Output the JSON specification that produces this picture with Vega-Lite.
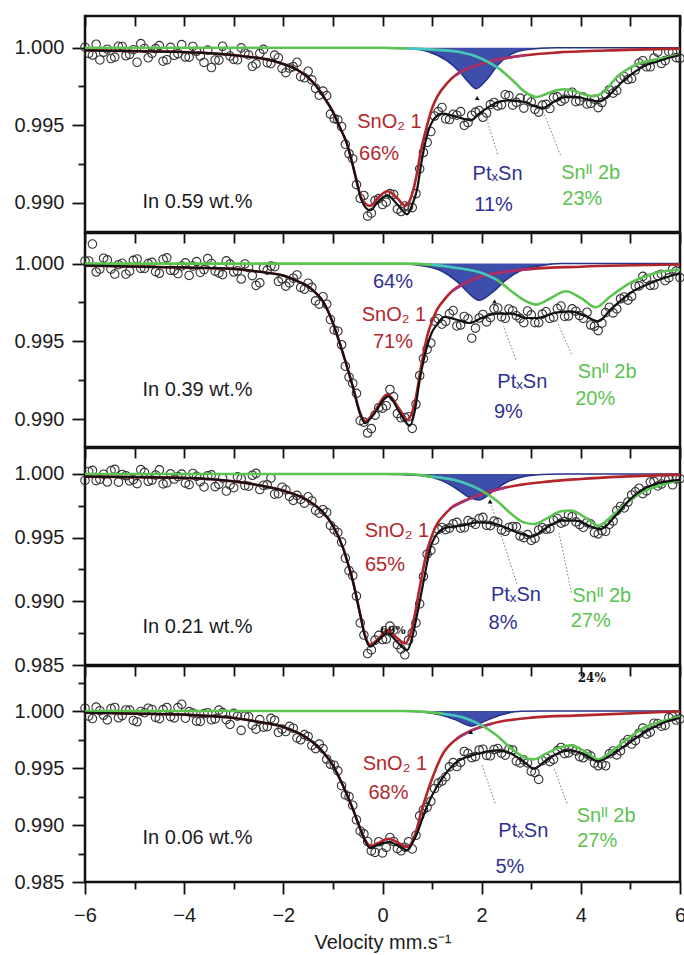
{
"$schema": "https://vega.github.io/schema/vega-lite/v6.json",
"padding": {"left": 12, "top": 13, "right": 4, "bottom": 0},
"bounds": "flush",
"spacing": 1,
"config": {
  "font": "Liberation Sans",
  "view": {"stroke": "#111111", "strokeWidth": 2.5},
  "axis": {"grid": false, "domain": false, "labelFont": "Liberation Sans", "titleFont": "Liberation Sans", "labelFontSize": 20, "labelColor": "#1c1c1c", "tickColor": "#111111", "tickWidth": 1.8, "titleColor": "#1c1c1c", "labelFlush": false, "labelOverlap": false}
},
"datasets": {
"pts": [
{"p":1,"v":-6,"y":1.00003},{"p":1,"v":-5.85,"y":0.99952},{"p":1,"v":-5.7,"y":0.99921},{"p":1,"v":-5.55,"y":0.9999},{"p":1,"v":-5.4,"y":0.99939},{"p":1,"v":-5.25,"y":1.00008},{"p":1,"v":-5.1,"y":0.99957},{"p":1,"v":-4.95,"y":0.99906},{"p":1,"v":-4.8,"y":0.99995},{"p":1,"v":-4.65,"y":0.99964},
{"p":1,"v":-4.5,"y":1.00013},{"p":1,"v":-4.35,"y":0.99922},{"p":1,"v":-4.2,"y":0.99951},{"p":1,"v":-4.05,"y":1.0002},{"p":1,"v":-3.9,"y":0.99939},{"p":1,"v":-3.75,"y":0.99977},{"p":1,"v":-3.6,"y":0.99905},{"p":1,"v":-3.45,"y":0.99872},{"p":1,"v":-3.3,"y":0.9992},{"p":1,"v":-3.15,"y":0.99977},
{"p":1,"v":-3,"y":0.99924},{"p":1,"v":-2.85,"y":0.99999},{"p":1,"v":-2.7,"y":0.99953},{"p":1,"v":-2.55,"y":0.99896},{"p":1,"v":-2.4,"y":0.99989},{"p":1,"v":-2.25,"y":0.99898},{"p":1,"v":-2.1,"y":0.99935},{"p":1,"v":-1.95,"y":0.99839},{"p":1,"v":-1.8,"y":0.99878},{"p":1,"v":-1.65,"y":0.99813},
{"p":1,"v":-1.5,"y":0.99848},{"p":1,"v":-1.35,"y":0.99738},{"p":1,"v":-1.2,"y":0.9972},{"p":1,"v":-1.05,"y":0.99572},{"p":1,"v":-0.9,"y":0.99535},{"p":1,"v":-0.75,"y":0.99378},{"p":1,"v":-0.6,"y":0.99285},{"p":1,"v":-0.45,"y":0.9903},{"p":1,"v":-0.3,"y":0.98915},{"p":1,"v":-0.15,"y":0.99015},
{"p":1,"v":0,"y":0.9899},{"p":1,"v":0.15,"y":0.9906},{"p":1,"v":0.3,"y":0.9896},{"p":1,"v":0.45,"y":0.9898},{"p":1,"v":0.6,"y":0.9897},{"p":1,"v":0.75,"y":0.9922},{"p":1,"v":0.9,"y":0.9939},{"p":1,"v":1.05,"y":0.9956},{"p":1,"v":1.2,"y":0.99615},{"p":1,"v":1.35,"y":0.99537},
{"p":1,"v":1.5,"y":0.99565},{"p":1,"v":1.65,"y":0.995},{"p":1,"v":1.8,"y":0.99565},{"p":1,"v":1.95,"y":0.99595},{"p":1,"v":2.1,"y":0.99579},{"p":1,"v":2.25,"y":0.99647},{"p":1,"v":2.4,"y":0.99632},{"p":1,"v":2.55,"y":0.99691},{"p":1,"v":2.7,"y":0.99648},{"p":1,"v":2.85,"y":0.99611},
{"p":1,"v":3,"y":0.9965},{"p":1,"v":3.15,"y":0.99585},{"p":1,"v":3.3,"y":0.99635},{"p":1,"v":3.45,"y":0.9968},{"p":1,"v":3.6,"y":0.99655},{"p":1,"v":3.75,"y":0.99703},{"p":1,"v":3.9,"y":0.99652},{"p":1,"v":4.05,"y":0.99682},{"p":1,"v":4.2,"y":0.99642},{"p":1,"v":4.35,"y":0.99614},
{"p":1,"v":4.5,"y":0.997},{"p":1,"v":4.65,"y":0.99707},{"p":1,"v":4.8,"y":0.998},{"p":1,"v":4.95,"y":0.99795},{"p":1,"v":5.1,"y":0.99856},{"p":1,"v":5.25,"y":0.99916},{"p":1,"v":5.4,"y":0.99877},{"p":1,"v":5.55,"y":0.99971},{"p":1,"v":5.7,"y":0.99917},{"p":1,"v":5.85,"y":0.9997},
{"p":1,"v":6,"y":0.99931},
{"p":1,"v":-5.925,"y":0.99963},{"p":1,"v":-5.775,"y":1.00022},{"p":1,"v":-5.625,"y":0.99971},{"p":1,"v":-5.475,"y":0.9993},{"p":1,"v":-5.325,"y":1.00009},{"p":1,"v":-5.175,"y":0.99948},{"p":1,"v":-5.025,"y":0.99987},{"p":1,"v":-4.875,"y":1.00026},{"p":1,"v":-4.725,"y":0.99935},{"p":1,"v":-4.575,"y":0.99994},
{"p":1,"v":-4.425,"y":0.99913},{"p":1,"v":-4.275,"y":1.00002},{"p":1,"v":-4.125,"y":0.99961},{"p":1,"v":-3.975,"y":0.9994},{"p":1,"v":-3.825,"y":1.00008},{"p":1,"v":-3.675,"y":0.99946},{"p":1,"v":-3.525,"y":0.99984},{"p":1,"v":-3.375,"y":0.99921},{"p":1,"v":-3.225,"y":1.00009},{"p":1,"v":-3.075,"y":0.99946},
{"p":1,"v":-2.925,"y":0.99922},{"p":1,"v":-2.775,"y":0.99966},{"p":1,"v":-2.625,"y":0.9988},{"p":1,"v":-2.475,"y":0.99963},{"p":1,"v":-2.325,"y":0.99904},{"p":1,"v":-2.175,"y":0.99952},{"p":1,"v":-2.025,"y":0.99867},{"p":1,"v":-1.875,"y":0.99869},{"p":1,"v":-1.725,"y":0.99906},{"p":1,"v":-1.575,"y":0.99806},
{"p":1,"v":-1.425,"y":0.99793},{"p":1,"v":-1.275,"y":0.99694},{"p":1,"v":-1.125,"y":0.99691},{"p":1,"v":-0.975,"y":0.99544},{"p":1,"v":-0.825,"y":0.99492},{"p":1,"v":-0.675,"y":0.99317},{"p":1,"v":-0.525,"y":0.99118},{"p":1,"v":-0.375,"y":0.99048},{"p":1,"v":-0.225,"y":0.98935},{"p":1,"v":-0.075,"y":0.99028},
{"p":1,"v":0.075,"y":0.99005},{"p":1,"v":0.225,"y":0.99055},{"p":1,"v":0.375,"y":0.98945},{"p":1,"v":0.525,"y":0.98975},{"p":1,"v":0.675,"y":0.9906},{"p":1,"v":0.825,"y":0.99325},{"p":1,"v":0.975,"y":0.9946},{"p":1,"v":1.125,"y":0.99588},{"p":1,"v":1.275,"y":0.99541},{"p":1,"v":1.425,"y":0.99571},
{"p":1,"v":1.575,"y":0.99588},{"p":1,"v":1.725,"y":0.99518},{"p":1,"v":1.875,"y":0.99585},{"p":1,"v":2.025,"y":0.99552},{"p":1,"v":2.175,"y":0.99633},{"p":1,"v":2.325,"y":0.99625},{"p":1,"v":2.475,"y":0.99697},{"p":1,"v":2.625,"y":0.9963},{"p":1,"v":2.775,"y":0.99675},{"p":1,"v":2.925,"y":0.99671},
{"p":1,"v":3.075,"y":0.99603},{"p":1,"v":3.225,"y":0.9963},{"p":1,"v":3.375,"y":0.99608},{"p":1,"v":3.525,"y":0.99683},{"p":1,"v":3.675,"y":0.99669},{"p":1,"v":3.825,"y":0.99713},{"p":1,"v":3.975,"y":0.99657},{"p":1,"v":4.125,"y":0.99637},{"p":1,"v":4.275,"y":0.99668},{"p":1,"v":4.425,"y":0.99647},
{"p":1,"v":4.575,"y":0.99729},{"p":1,"v":4.725,"y":0.99724},{"p":1,"v":4.875,"y":0.99813},{"p":1,"v":5.025,"y":0.99801},{"p":1,"v":5.175,"y":0.99901},{"p":1,"v":5.325,"y":0.99877},{"p":1,"v":5.475,"y":0.99934},{"p":1,"v":5.625,"y":0.99899},{"p":1,"v":5.775,"y":0.99974},{"p":1,"v":5.925,"y":0.99936},
{"p":2,"v":-6,"y":1.00017},{"p":2,"v":-5.85,"y":1.00126},{"p":2,"v":-5.7,"y":0.99965},{"p":2,"v":-5.55,"y":1.00024},{"p":2,"v":-5.4,"y":0.99933},{"p":2,"v":-5.25,"y":1.00002},{"p":2,"v":-5.1,"y":0.99951},{"p":2,"v":-4.95,"y":1.0003},{"p":2,"v":-4.8,"y":0.99969},{"p":2,"v":-4.65,"y":1.00008},
{"p":2,"v":-4.5,"y":0.99938},{"p":2,"v":-4.35,"y":1.00037},{"p":2,"v":-4.2,"y":0.99956},{"p":2,"v":-4.05,"y":0.99985},{"p":2,"v":-3.9,"y":0.99924},{"p":2,"v":-3.75,"y":1.00013},{"p":2,"v":-3.6,"y":0.99962},{"p":2,"v":-3.45,"y":1.00001},{"p":2,"v":-3.3,"y":0.9994},{"p":2,"v":-3.15,"y":1.00018},
{"p":2,"v":-3,"y":0.99946},{"p":2,"v":-2.85,"y":0.99901},{"p":2,"v":-2.7,"y":0.99975},{"p":2,"v":-2.55,"y":0.9986},{"p":2,"v":-2.4,"y":0.99972},{"p":2,"v":-2.25,"y":0.99984},{"p":2,"v":-2.1,"y":0.99886},{"p":2,"v":-1.95,"y":0.99855},{"p":2,"v":-1.8,"y":0.99906},{"p":2,"v":-1.65,"y":0.99847},
{"p":2,"v":-1.5,"y":0.99874},{"p":2,"v":-1.35,"y":0.9976},{"p":2,"v":-1.2,"y":0.99787},{"p":2,"v":-1.05,"y":0.9964},{"p":2,"v":-0.9,"y":0.99565},{"p":2,"v":-0.75,"y":0.9934},{"p":2,"v":-0.6,"y":0.9923},{"p":2,"v":-0.45,"y":0.98989},{"p":2,"v":-0.3,"y":0.9891},{"p":2,"v":-0.15,"y":0.99025},
{"p":2,"v":0,"y":0.9907},{"p":2,"v":0.15,"y":0.9919},{"p":2,"v":0.3,"y":0.99035},{"p":2,"v":0.45,"y":0.9901},{"p":2,"v":0.6,"y":0.9894},{"p":2,"v":0.75,"y":0.9928},{"p":2,"v":0.9,"y":0.99448},{"p":2,"v":1.05,"y":0.9963},{"p":2,"v":1.2,"y":0.9961},{"p":2,"v":1.35,"y":0.99677},
{"p":2,"v":1.5,"y":0.99599},{"p":2,"v":1.65,"y":0.9966},{"p":2,"v":1.8,"y":0.9952},{"p":2,"v":1.95,"y":0.9965},{"p":2,"v":2.1,"y":0.99625},{"p":2,"v":2.25,"y":0.9971},{"p":2,"v":2.4,"y":0.99658},{"p":2,"v":2.55,"y":0.99708},{"p":2,"v":2.7,"y":0.99665},{"p":2,"v":2.85,"y":0.9962},
{"p":2,"v":3,"y":0.9967},{"p":2,"v":3.15,"y":0.9962},{"p":2,"v":3.3,"y":0.9969},{"p":2,"v":3.45,"y":0.99655},{"p":2,"v":3.6,"y":0.99727},{"p":2,"v":3.75,"y":0.99663},{"p":2,"v":3.9,"y":0.99694},{"p":2,"v":4.05,"y":0.99648},{"p":2,"v":4.2,"y":0.99605},{"p":2,"v":4.35,"y":0.99569},
{"p":2,"v":4.5,"y":0.99685},{"p":2,"v":4.65,"y":0.99683},{"p":2,"v":4.8,"y":0.99774},{"p":2,"v":4.95,"y":0.99765},{"p":2,"v":5.1,"y":0.99855},{"p":2,"v":5.25,"y":0.99918},{"p":2,"v":5.4,"y":0.9986},{"p":2,"v":5.55,"y":0.99923},{"p":2,"v":5.7,"y":0.9989},{"p":2,"v":5.85,"y":0.99965},
{"p":2,"v":6,"y":0.9991},
{"p":2,"v":-5.925,"y":1.00017},{"p":2,"v":-5.775,"y":0.99946},{"p":2,"v":-5.625,"y":1.00035},{"p":2,"v":-5.475,"y":0.99964},{"p":2,"v":-5.325,"y":0.99993},{"p":2,"v":-5.175,"y":0.99932},{"p":2,"v":-5.025,"y":1.00021},{"p":2,"v":-4.875,"y":0.9997},{"p":2,"v":-4.725,"y":1.0},{"p":2,"v":-4.575,"y":0.99948},
{"p":2,"v":-4.425,"y":1.00028},{"p":2,"v":-4.275,"y":0.99957},{"p":2,"v":-4.125,"y":0.99936},{"p":2,"v":-3.975,"y":1.00005},{"p":2,"v":-3.825,"y":0.99984},{"p":2,"v":-3.675,"y":0.99943},{"p":2,"v":-3.525,"y":1.00032},{"p":2,"v":-3.375,"y":0.99951},{"p":2,"v":-3.225,"y":0.99929},{"p":2,"v":-3.075,"y":0.99997},
{"p":2,"v":-2.925,"y":0.99954},{"p":2,"v":-2.775,"y":0.99998},{"p":2,"v":-2.625,"y":0.99923},{"p":2,"v":-2.475,"y":0.99876},{"p":2,"v":-2.325,"y":0.99958},{"p":2,"v":-2.175,"y":0.9998},{"p":2,"v":-2.025,"y":0.99901},{"p":2,"v":-1.875,"y":0.99876},{"p":2,"v":-1.725,"y":0.99927},{"p":2,"v":-1.575,"y":0.99836},
{"p":2,"v":-1.425,"y":0.99847},{"p":2,"v":-1.275,"y":0.99739},{"p":2,"v":-1.125,"y":0.99739},{"p":2,"v":-0.975,"y":0.99573},{"p":2,"v":-0.825,"y":0.99478},{"p":2,"v":-0.675,"y":0.9927},{"p":2,"v":-0.525,"y":0.99165},{"p":2,"v":-0.375,"y":0.9898},{"p":2,"v":-0.225,"y":0.98938},{"p":2,"v":-0.075,"y":0.99073},
{"p":2,"v":0.075,"y":0.99085},{"p":2,"v":0.225,"y":0.99143},{"p":2,"v":0.375,"y":0.99008},{"p":2,"v":0.525,"y":0.99015},{"p":2,"v":0.675,"y":0.99095},{"p":2,"v":0.825,"y":0.99389},{"p":2,"v":0.975,"y":0.99489},{"p":2,"v":1.125,"y":0.99645},{"p":2,"v":1.275,"y":0.99629},{"p":2,"v":1.425,"y":0.99698},
{"p":2,"v":1.575,"y":0.99605},{"p":2,"v":1.725,"y":0.99645},{"p":2,"v":1.875,"y":0.99585},{"p":2,"v":2.025,"y":0.99673},{"p":2,"v":2.175,"y":0.99653},{"p":2,"v":2.325,"y":0.99714},{"p":2,"v":2.475,"y":0.99648},{"p":2,"v":2.625,"y":0.99697},{"p":2,"v":2.775,"y":0.99648},{"p":2,"v":2.925,"y":0.99695},
{"p":2,"v":3.075,"y":0.9962},{"p":2,"v":3.225,"y":0.99675},{"p":2,"v":3.375,"y":0.99648},{"p":2,"v":3.525,"y":0.99711},{"p":2,"v":3.675,"y":0.9966},{"p":2,"v":3.825,"y":0.99709},{"p":2,"v":3.975,"y":0.99666},{"p":2,"v":4.125,"y":0.99687},{"p":2,"v":4.275,"y":0.99597},{"p":2,"v":4.425,"y":0.99617},
{"p":2,"v":4.575,"y":0.99719},{"p":2,"v":4.725,"y":0.99709},{"p":2,"v":4.875,"y":0.99785},{"p":2,"v":5.025,"y":0.9979},{"p":2,"v":5.175,"y":0.99857},{"p":2,"v":5.325,"y":0.99904},{"p":2,"v":5.475,"y":0.99862},{"p":2,"v":5.625,"y":0.99932},{"p":2,"v":5.775,"y":0.99908},{"p":2,"v":5.925,"y":0.99953},
{"p":3,"v":-6,"y":0.99949},{"p":3,"v":-5.85,"y":1.00028},{"p":3,"v":-5.7,"y":0.99958},{"p":3,"v":-5.55,"y":0.99937},{"p":3,"v":-5.4,"y":1.00036},{"p":3,"v":-5.25,"y":0.99996},{"p":3,"v":-5.1,"y":0.99945},{"p":3,"v":-4.95,"y":0.99924},{"p":3,"v":-4.8,"y":1.00013},{"p":3,"v":-4.65,"y":0.99952},
{"p":3,"v":-4.5,"y":1.00032},{"p":3,"v":-4.35,"y":0.99931},{"p":3,"v":-4.2,"y":0.9996},{"p":3,"v":-4.05,"y":0.99999},{"p":3,"v":-3.9,"y":0.99916},{"p":3,"v":-3.75,"y":0.99982},{"p":3,"v":-3.6,"y":0.99898},{"p":3,"v":-3.45,"y":0.99993},{"p":3,"v":-3.3,"y":0.99919},{"p":3,"v":-3.15,"y":0.99866},
{"p":3,"v":-3,"y":0.99892},{"p":3,"v":-2.85,"y":0.99963},{"p":3,"v":-2.7,"y":0.99904},{"p":3,"v":-2.55,"y":1.00005},{"p":3,"v":-2.4,"y":0.99911},{"p":3,"v":-2.25,"y":0.99968},{"p":3,"v":-2.1,"y":0.99845},{"p":3,"v":-1.95,"y":0.99876},{"p":3,"v":-1.8,"y":0.99793},{"p":3,"v":-1.65,"y":0.998},
{"p":3,"v":-1.5,"y":0.99821},{"p":3,"v":-1.35,"y":0.99715},{"p":3,"v":-1.2,"y":0.99719},{"p":3,"v":-1.05,"y":0.99596},{"p":3,"v":-0.9,"y":0.9954},{"p":3,"v":-0.75,"y":0.9934},{"p":3,"v":-0.6,"y":0.99202},{"p":3,"v":-0.45,"y":0.9883},{"p":3,"v":-0.3,"y":0.9859},{"p":3,"v":-0.15,"y":0.98695},
{"p":3,"v":0,"y":0.987},{"p":3,"v":0.15,"y":0.98805},{"p":3,"v":0.3,"y":0.9866},{"p":3,"v":0.45,"y":0.9858},{"p":3,"v":0.6,"y":0.9875},{"p":3,"v":0.75,"y":0.9898},{"p":3,"v":0.9,"y":0.9937},{"p":3,"v":1.05,"y":0.9948},{"p":3,"v":1.2,"y":0.9958},{"p":3,"v":1.35,"y":0.99575},
{"p":3,"v":1.5,"y":0.9962},{"p":3,"v":1.65,"y":0.99578},{"p":3,"v":1.8,"y":0.9962},{"p":3,"v":1.95,"y":0.9965},{"p":3,"v":2.1,"y":0.99597},{"p":3,"v":2.25,"y":0.9963},{"p":3,"v":2.4,"y":0.9956},{"p":3,"v":2.55,"y":0.9958},{"p":3,"v":2.7,"y":0.99585},{"p":3,"v":2.85,"y":0.995},
{"p":3,"v":3,"y":0.99478},{"p":3,"v":3.15,"y":0.9956},{"p":3,"v":3.3,"y":0.99566},{"p":3,"v":3.45,"y":0.99635},{"p":3,"v":3.6,"y":0.99614},{"p":3,"v":3.75,"y":0.99678},{"p":3,"v":3.9,"y":0.99624},{"p":3,"v":4.05,"y":0.9958},{"p":3,"v":4.2,"y":0.99607},{"p":3,"v":4.35,"y":0.9953},
{"p":3,"v":4.5,"y":0.9955},{"p":3,"v":4.65,"y":0.9963},{"p":3,"v":4.8,"y":0.99745},{"p":3,"v":4.95,"y":0.9978},{"p":3,"v":5.1,"y":0.9986},{"p":3,"v":5.25,"y":0.99846},{"p":3,"v":5.4,"y":0.99937},{"p":3,"v":5.55,"y":0.99906},{"p":3,"v":5.7,"y":0.99956},{"p":3,"v":5.85,"y":0.99915},
{"p":3,"v":6,"y":0.99963},
{"p":3,"v":-5.925,"y":1.00019},{"p":3,"v":-5.775,"y":0.99948},{"p":3,"v":-5.625,"y":0.99998},{"p":3,"v":-5.475,"y":1.00027},{"p":3,"v":-5.325,"y":0.99936},{"p":3,"v":-5.175,"y":0.99986},{"p":3,"v":-5.025,"y":0.99955},{"p":3,"v":-4.875,"y":1.00034},{"p":3,"v":-4.725,"y":0.99943},{"p":3,"v":-4.575,"y":0.99992},
{"p":3,"v":-4.425,"y":0.99922},{"p":3,"v":-4.275,"y":1.00001},{"p":3,"v":-4.125,"y":0.9998},{"p":3,"v":-3.975,"y":0.99928},{"p":3,"v":-3.825,"y":1.00004},{"p":3,"v":-3.675,"y":0.9994},{"p":3,"v":-3.525,"y":0.99986},{"p":3,"v":-3.375,"y":0.99901},{"p":3,"v":-3.225,"y":0.99968},{"p":3,"v":-3.075,"y":0.99914},
{"p":3,"v":-2.925,"y":0.99978},{"p":3,"v":-2.775,"y":0.99909},{"p":3,"v":-2.625,"y":0.9999},{"p":3,"v":-2.475,"y":0.99878},{"p":3,"v":-2.325,"y":0.99915},{"p":3,"v":-2.175,"y":0.99842},{"p":3,"v":-2.025,"y":0.99896},{"p":3,"v":-1.875,"y":0.99825},{"p":3,"v":-1.725,"y":0.99832},{"p":3,"v":-1.575,"y":0.99771},
{"p":3,"v":-1.425,"y":0.99788},{"p":3,"v":-1.275,"y":0.99692},{"p":3,"v":-1.125,"y":0.99698},{"p":3,"v":-0.975,"y":0.99563},{"p":3,"v":-0.825,"y":0.99465},{"p":3,"v":-0.675,"y":0.99241},{"p":3,"v":-0.525,"y":0.99041},{"p":3,"v":-0.375,"y":0.98735},{"p":3,"v":-0.225,"y":0.98618},{"p":3,"v":-0.075,"y":0.98733},
{"p":3,"v":0.075,"y":0.98703},{"p":3,"v":0.225,"y":0.98773},{"p":3,"v":0.375,"y":0.98625},{"p":3,"v":0.525,"y":0.98695},{"p":3,"v":0.675,"y":0.9883},{"p":3,"v":0.825,"y":0.99195},{"p":3,"v":0.975,"y":0.994},{"p":3,"v":1.125,"y":0.99565},{"p":3,"v":1.275,"y":0.99563},{"p":3,"v":1.425,"y":0.99608},
{"p":3,"v":1.575,"y":0.99574},{"p":3,"v":1.725,"y":0.99634},{"p":3,"v":1.875,"y":0.99605},{"p":3,"v":2.025,"y":0.99659},{"p":3,"v":2.175,"y":0.99594},{"p":3,"v":2.325,"y":0.9962},{"p":3,"v":2.475,"y":0.9955},{"p":3,"v":2.625,"y":0.99588},{"p":3,"v":2.775,"y":0.99513},{"p":3,"v":2.925,"y":0.99524},
{"p":3,"v":3.075,"y":0.99494},{"p":3,"v":3.225,"y":0.99578},{"p":3,"v":3.375,"y":0.99571},{"p":3,"v":3.525,"y":0.9965},{"p":3,"v":3.675,"y":0.99626},{"p":3,"v":3.825,"y":0.99666},{"p":3,"v":3.975,"y":0.99602},{"p":3,"v":4.125,"y":0.99619},{"p":3,"v":4.275,"y":0.99539},{"p":3,"v":4.425,"y":0.99555},
{"p":3,"v":4.575,"y":0.99605},{"p":3,"v":4.725,"y":0.99713},{"p":3,"v":4.875,"y":0.99733},{"p":3,"v":5.025,"y":0.99835},{"p":3,"v":5.175,"y":0.99888},{"p":3,"v":5.325,"y":0.99867},{"p":3,"v":5.475,"y":0.99942},{"p":3,"v":5.625,"y":0.99921},{"p":3,"v":5.775,"y":0.99961},{"p":3,"v":5.925,"y":0.99959},
{"p":4,"v":-6,"y":1.00025},{"p":4,"v":-5.85,"y":0.99934},{"p":4,"v":-5.7,"y":1.00003},{"p":4,"v":-5.55,"y":0.99922},{"p":4,"v":-5.4,"y":1.00031},{"p":4,"v":-5.25,"y":0.9996},{"p":4,"v":-5.1,"y":1.00008},{"p":4,"v":-4.95,"y":0.99906},{"p":4,"v":-4.8,"y":0.99985},{"p":4,"v":-4.65,"y":1.00014},
{"p":4,"v":-4.5,"y":0.99933},{"p":4,"v":-4.35,"y":1.00031},{"p":4,"v":-4.2,"y":0.9994},{"p":4,"v":-4.05,"y":1.00059},{"p":4,"v":-3.9,"y":0.99995},{"p":4,"v":-3.75,"y":0.99911},{"p":4,"v":-3.6,"y":0.99977},{"p":4,"v":-3.45,"y":0.99923},{"p":4,"v":-3.3,"y":1.00008},{"p":4,"v":-3.15,"y":0.99924},
{"p":4,"v":-3,"y":0.99979},{"p":4,"v":-2.85,"y":0.9983},{"p":4,"v":-2.7,"y":0.9995},{"p":4,"v":-2.55,"y":0.99841},{"p":4,"v":-2.4,"y":0.99859},{"p":4,"v":-2.25,"y":0.99936},{"p":4,"v":-2.1,"y":0.99812},{"p":4,"v":-1.95,"y":0.9982},{"p":4,"v":-1.8,"y":0.99849},{"p":4,"v":-1.65,"y":0.99748},
{"p":4,"v":-1.5,"y":0.99777},{"p":4,"v":-1.35,"y":0.9967},{"p":4,"v":-1.2,"y":0.9967},{"p":4,"v":-1.05,"y":0.99533},{"p":4,"v":-0.9,"y":0.99475},{"p":4,"v":-0.75,"y":0.99265},{"p":4,"v":-0.6,"y":0.99173},{"p":4,"v":-0.45,"y":0.98948},{"p":4,"v":-0.3,"y":0.98855},{"p":4,"v":-0.15,"y":0.9876},
{"p":4,"v":0,"y":0.98755},{"p":4,"v":0.15,"y":0.9889},{"p":4,"v":0.3,"y":0.98792},{"p":4,"v":0.45,"y":0.98805},{"p":4,"v":0.6,"y":0.9879},{"p":4,"v":0.75,"y":0.9908},{"p":4,"v":0.9,"y":0.99155},{"p":4,"v":1.05,"y":0.9932},{"p":4,"v":1.2,"y":0.99386},{"p":4,"v":1.35,"y":0.9951},
{"p":4,"v":1.5,"y":0.99513},{"p":4,"v":1.65,"y":0.99645},{"p":4,"v":1.8,"y":0.99591},{"p":4,"v":1.95,"y":0.99658},{"p":4,"v":2.1,"y":0.99611},{"p":4,"v":2.25,"y":0.99662},{"p":4,"v":2.4,"y":0.9963},{"p":4,"v":2.55,"y":0.99665},{"p":4,"v":2.7,"y":0.9956},{"p":4,"v":2.85,"y":0.9957},
{"p":4,"v":3,"y":0.9947},{"p":4,"v":3.15,"y":0.994},{"p":4,"v":3.3,"y":0.99587},{"p":4,"v":3.45,"y":0.99575},{"p":4,"v":3.6,"y":0.9968},{"p":4,"v":3.75,"y":0.99632},{"p":4,"v":3.9,"y":0.9965},{"p":4,"v":4.05,"y":0.9959},{"p":4,"v":4.2,"y":0.99605},{"p":4,"v":4.35,"y":0.9952},
{"p":4,"v":4.5,"y":0.9952},{"p":4,"v":4.65,"y":0.9965},{"p":4,"v":4.8,"y":0.9965},{"p":4,"v":4.95,"y":0.9975},{"p":4,"v":5.1,"y":0.9974},{"p":4,"v":5.25,"y":0.9985},{"p":4,"v":5.4,"y":0.99815},{"p":4,"v":5.55,"y":0.9989},{"p":4,"v":5.7,"y":0.99874},{"p":4,"v":5.85,"y":0.99952},
{"p":4,"v":6,"y":0.99929},
{"p":4,"v":-5.925,"y":0.99955},{"p":4,"v":-5.775,"y":1.00034},{"p":4,"v":-5.625,"y":0.99963},{"p":4,"v":-5.475,"y":1.00022},{"p":4,"v":-5.325,"y":0.99941},{"p":4,"v":-5.175,"y":1.00009},{"p":4,"v":-5.025,"y":0.99917},{"p":4,"v":-4.875,"y":0.99996},{"p":4,"v":-4.725,"y":1.00025},{"p":4,"v":-4.575,"y":0.99944},
{"p":4,"v":-4.425,"y":1.00012},{"p":4,"v":-4.275,"y":0.99951},{"p":4,"v":-4.125,"y":1.0003},{"p":4,"v":-3.975,"y":0.99937},{"p":4,"v":-3.825,"y":0.99983},{"p":4,"v":-3.675,"y":0.99909},{"p":4,"v":-3.525,"y":0.99985},{"p":4,"v":-3.375,"y":0.99931},{"p":4,"v":-3.225,"y":0.99986},{"p":4,"v":-3.075,"y":0.99882},
{"p":4,"v":-2.925,"y":0.99955},{"p":4,"v":-2.775,"y":0.99955},{"p":4,"v":-2.625,"y":0.99876},{"p":4,"v":-2.475,"y":0.99925},{"p":4,"v":-2.325,"y":0.99863},{"p":4,"v":-2.175,"y":0.99919},{"p":4,"v":-2.025,"y":0.99841},{"p":4,"v":-1.875,"y":0.99865},{"p":4,"v":-1.725,"y":0.99764},{"p":4,"v":-1.575,"y":0.99793},
{"p":4,"v":-1.425,"y":0.99699},{"p":4,"v":-1.275,"y":0.9971},{"p":4,"v":-1.125,"y":0.99577},{"p":4,"v":-0.975,"y":0.99524},{"p":4,"v":-0.825,"y":0.99345},{"p":4,"v":-0.675,"y":0.99249},{"p":4,"v":-0.525,"y":0.99046},{"p":4,"v":-0.375,"y":0.98922},{"p":4,"v":-0.225,"y":0.98773},{"p":4,"v":-0.075,"y":0.98853},
{"p":4,"v":0.075,"y":0.98803},{"p":4,"v":0.225,"y":0.98856},{"p":4,"v":0.375,"y":0.98774},{"p":4,"v":0.525,"y":0.98853},{"p":4,"v":0.675,"y":0.9891},{"p":4,"v":0.825,"y":0.99133},{"p":4,"v":0.975,"y":0.99208},{"p":4,"v":1.125,"y":0.99368},{"p":4,"v":1.275,"y":0.99423},{"p":4,"v":1.425,"y":0.99547},
{"p":4,"v":1.575,"y":0.99549},{"p":4,"v":1.725,"y":0.99628},{"p":4,"v":1.875,"y":0.996},{"p":4,"v":2.025,"y":0.99665},{"p":4,"v":2.175,"y":0.99607},{"p":4,"v":2.325,"y":0.99671},{"p":4,"v":2.475,"y":0.99613},{"p":4,"v":2.625,"y":0.99658},{"p":4,"v":2.775,"y":0.99545},{"p":4,"v":2.925,"y":0.99545},
{"p":4,"v":3.075,"y":0.9946},{"p":4,"v":3.225,"y":0.99564},{"p":4,"v":3.375,"y":0.99556},{"p":4,"v":3.525,"y":0.99653},{"p":4,"v":3.675,"y":0.99626},{"p":4,"v":3.825,"y":0.99666},{"p":4,"v":3.975,"y":0.996},{"p":4,"v":4.125,"y":0.99623},{"p":4,"v":4.275,"y":0.99543},{"p":4,"v":4.425,"y":0.99535},
{"p":4,"v":4.575,"y":0.99625},{"p":4,"v":4.725,"y":0.99615},{"p":4,"v":4.875,"y":0.9972},{"p":4,"v":5.025,"y":0.9971},{"p":4,"v":5.175,"y":0.99805},{"p":4,"v":5.325,"y":0.99798},{"p":4,"v":5.475,"y":0.99893},{"p":4,"v":5.625,"y":0.99867},{"p":4,"v":5.775,"y":0.99943},{"p":4,"v":5.925,"y":0.99921}
],
"curves": [
{"p":1,"s":"SnO2","v":-6,"y":0.99983},{"p":1,"s":"SnO2","v":-5,"y":0.99978},{"p":1,"s":"SnO2","v":-4,"y":0.99972},{"p":1,"s":"SnO2","v":-3.3,"y":0.9996},{"p":1,"s":"SnO2","v":-2.8,"y":0.99945},{"p":1,"s":"SnO2","v":-2.4,"y":0.99929},{"p":1,"s":"SnO2","v":-2,"y":0.99895},{"p":1,"s":"SnO2","v":-1.7,"y":0.99854},{"p":1,"s":"SnO2","v":-1.5,"y":0.99808},{"p":1,"s":"SnO2","v":-1.35,"y":0.99758},{"p":1,"s":"SnO2","v":-1.2,"y":0.9969},{"p":1,"s":"SnO2","v":-1,"y":0.99586},{"p":1,"s":"SnO2","v":-0.85,"y":0.9948},{"p":1,"s":"SnO2","v":-0.73,"y":0.99393},{"p":1,"s":"SnO2","v":-0.62,"y":0.9927},{"p":1,"s":"SnO2","v":-0.55,"y":0.99178},{"p":1,"s":"SnO2","v":-0.42,"y":0.99028},{"p":1,"s":"SnO2","v":-0.25,"y":0.98981},{"p":1,"s":"SnO2","v":-0.1,"y":0.9903},{"p":1,"s":"SnO2","v":0.1,"y":0.99075},{"p":1,"s":"SnO2","v":0.3,"y":0.9903},{"p":1,"s":"SnO2","v":0.46,"y":0.98981},{"p":1,"s":"SnO2","v":0.6,"y":0.9906},{"p":1,"s":"SnO2","v":0.7,"y":0.992},{"p":1,"s":"SnO2","v":0.77,"y":0.99328},{"p":1,"s":"SnO2","v":0.9,"y":0.995},{"p":1,"s":"SnO2","v":1,"y":0.9961},{"p":1,"s":"SnO2","v":1.12,"y":0.99693},{"p":1,"s":"SnO2","v":1.3,"y":0.9977},{"p":1,"s":"SnO2","v":1.47,"y":0.99822},{"p":1,"s":"SnO2","v":1.7,"y":0.99862},{"p":1,"s":"SnO2","v":2,"y":0.99897},{"p":1,"s":"SnO2","v":2.4,"y":0.99928},{"p":1,"s":"SnO2","v":2.88,"y":0.99951},{"p":1,"s":"SnO2","v":3.5,"y":0.99968},{"p":1,"s":"SnO2","v":4.5,"y":0.99982},{"p":1,"s":"SnO2","v":6,"y":0.99994},
{"p":1,"s":"fit","v":-6,"y":0.99983},{"p":1,"s":"fit","v":-5,"y":0.99978},{"p":1,"s":"fit","v":-4,"y":0.99972},{"p":1,"s":"fit","v":-3.3,"y":0.9996},{"p":1,"s":"fit","v":-2.8,"y":0.99945},{"p":1,"s":"fit","v":-2.4,"y":0.99929},{"p":1,"s":"fit","v":-2,"y":0.99895},{"p":1,"s":"fit","v":-1.7,"y":0.99854},{"p":1,"s":"fit","v":-1.5,"y":0.99808},{"p":1,"s":"fit","v":-1.35,"y":0.99758},{"p":1,"s":"fit","v":-1.2,"y":0.9969},{"p":1,"s":"fit","v":-1,"y":0.99586},{"p":1,"s":"fit","v":-0.85,"y":0.9948},{"p":1,"s":"fit","v":-0.73,"y":0.99393},{"p":1,"s":"fit","v":-0.62,"y":0.9927},{"p":1,"s":"fit","v":-0.55,"y":0.99178},{"p":1,"s":"fit","v":-0.42,"y":0.99015},{"p":1,"s":"fit","v":-0.25,"y":0.98953},{"p":1,"s":"fit","v":-0.1,"y":0.99005},{"p":1,"s":"fit","v":0.1,"y":0.99049},{"p":1,"s":"fit","v":0.3,"y":0.9899},{"p":1,"s":"fit","v":0.5,"y":0.98927},{"p":1,"s":"fit","v":0.6,"y":0.9899},{"p":1,"s":"fit","v":0.7,"y":0.99092},{"p":1,"s":"fit","v":0.78,"y":0.9925},{"p":1,"s":"fit","v":0.85,"y":0.99371},{"p":1,"s":"fit","v":1,"y":0.99521},{"p":1,"s":"fit","v":1.2,"y":0.99575},{"p":1,"s":"fit","v":1.4,"y":0.99564},{"p":1,"s":"fit","v":1.6,"y":0.99545},{"p":1,"s":"fit","v":1.78,"y":0.99532},{"p":1,"s":"fit","v":1.95,"y":0.99575},{"p":1,"s":"fit","v":2.09,"y":0.99607},{"p":1,"s":"fit","v":2.3,"y":0.99645},{"p":1,"s":"fit","v":2.53,"y":0.99661},{"p":1,"s":"fit","v":2.88,"y":0.9965},{"p":1,"s":"fit","v":3.05,"y":0.99625},{"p":1,"s":"fit","v":3.23,"y":0.99612},{"p":1,"s":"fit","v":3.45,"y":0.9965},{"p":1,"s":"fit","v":3.67,"y":0.99682},{"p":1,"s":"fit","v":3.93,"y":0.99682},{"p":1,"s":"fit","v":4.15,"y":0.99665},{"p":1,"s":"fit","v":4.37,"y":0.99654},{"p":1,"s":"fit","v":4.64,"y":0.99715},{"p":1,"s":"fit","v":4.85,"y":0.99785},{"p":1,"s":"fit","v":5.08,"y":0.99843},{"p":1,"s":"fit","v":5.3,"y":0.99885},{"p":1,"s":"fit","v":5.52,"y":0.99908},{"p":1,"s":"fit","v":5.75,"y":0.99932},{"p":1,"s":"fit","v":6,"y":0.99951},
{"p":1,"s":"SnII","v":-6,"y":1},{"p":1,"s":"SnII","v":0,"y":1},{"p":1,"s":"SnII","v":0.5,"y":0.99995},{"p":1,"s":"SnII","v":1,"y":0.99988},{"p":1,"s":"SnII","v":1.56,"y":0.99972},{"p":1,"s":"SnII","v":2,"y":0.99929},{"p":1,"s":"SnII","v":2.35,"y":0.99865},{"p":1,"s":"SnII","v":2.66,"y":0.99779},{"p":1,"s":"SnII","v":2.85,"y":0.9972},{"p":1,"s":"SnII","v":2.97,"y":0.99697},{"p":1,"s":"SnII","v":3.1,"y":0.99682},{"p":1,"s":"SnII","v":3.25,"y":0.99695},{"p":1,"s":"SnII","v":3.4,"y":0.99715},{"p":1,"s":"SnII","v":3.67,"y":0.99732},{"p":1,"s":"SnII","v":3.93,"y":0.99715},{"p":1,"s":"SnII","v":4.1,"y":0.99695},{"p":1,"s":"SnII","v":4.24,"y":0.99687},{"p":1,"s":"SnII","v":4.46,"y":0.99715},{"p":1,"s":"SnII","v":4.73,"y":0.99811},{"p":1,"s":"SnII","v":5.08,"y":0.99886},{"p":1,"s":"SnII","v":5.52,"y":0.99925},{"p":1,"s":"SnII","v":6,"y":0.99951},
{"p":1,"s":"PtxSn","v":-1,"y":1},{"p":1,"s":"PtxSn","v":0.5,"y":0.99995},{"p":1,"s":"PtxSn","v":0.94,"y":0.99972},{"p":1,"s":"PtxSn","v":1.29,"y":0.99918},{"p":1,"s":"PtxSn","v":1.56,"y":0.99843},{"p":1,"s":"PtxSn","v":1.73,"y":0.99779},{"p":1,"s":"PtxSn","v":1.89,"y":0.99736},{"p":1,"s":"PtxSn","v":2.09,"y":0.9979},{"p":1,"s":"PtxSn","v":2.35,"y":0.99897},{"p":1,"s":"PtxSn","v":2.61,"y":0.99961},{"p":1,"s":"PtxSn","v":2.88,"y":0.99987},{"p":1,"s":"PtxSn","v":3.5,"y":1},{"p":1,"s":"PtxSn","v":6,"y":1},
{"p":2,"s":"SnO2","v":-6,"y":0.99987},{"p":2,"s":"SnO2","v":-4.5,"y":0.99978},{"p":2,"s":"SnO2","v":-3,"y":0.99966},{"p":2,"s":"SnO2","v":-2.5,"y":0.99948},{"p":2,"s":"SnO2","v":-2,"y":0.99923},{"p":2,"s":"SnO2","v":-1.7,"y":0.99885},{"p":2,"s":"SnO2","v":-1.5,"y":0.99854},{"p":2,"s":"SnO2","v":-1.35,"y":0.99812},{"p":2,"s":"SnO2","v":-1.2,"y":0.99757},{"p":2,"s":"SnO2","v":-1.1,"y":0.99695},{"p":2,"s":"SnO2","v":-1,"y":0.99618},{"p":2,"s":"SnO2","v":-0.9,"y":0.99525},{"p":2,"s":"SnO2","v":-0.8,"y":0.99425},{"p":2,"s":"SnO2","v":-0.7,"y":0.9932},{"p":2,"s":"SnO2","v":-0.6,"y":0.9921},{"p":2,"s":"SnO2","v":-0.45,"y":0.99039},{"p":2,"s":"SnO2","v":-0.35,"y":0.98985},{"p":2,"s":"SnO2","v":-0.2,"y":0.9903},{"p":2,"s":"SnO2","v":0.1,"y":0.99157},{"p":2,"s":"SnO2","v":0.35,"y":0.9906},{"p":2,"s":"SnO2","v":0.5,"y":0.98996},{"p":2,"s":"SnO2","v":0.65,"y":0.99103},{"p":2,"s":"SnO2","v":0.78,"y":0.99339},{"p":2,"s":"SnO2","v":0.9,"y":0.99532},{"p":2,"s":"SnO2","v":1,"y":0.9963},{"p":2,"s":"SnO2","v":1.1,"y":0.99704},{"p":2,"s":"SnO2","v":1.25,"y":0.9977},{"p":2,"s":"SnO2","v":1.4,"y":0.99822},{"p":2,"s":"SnO2","v":1.7,"y":0.9988},{"p":2,"s":"SnO2","v":2,"y":0.99918},{"p":2,"s":"SnO2","v":2.5,"y":0.99948},{"p":2,"s":"SnO2","v":3,"y":0.99966},{"p":2,"s":"SnO2","v":4,"y":0.9998},{"p":2,"s":"SnO2","v":6,"y":0.99994},
{"p":2,"s":"fit","v":-6,"y":0.99987},{"p":2,"s":"fit","v":-4.5,"y":0.99978},{"p":2,"s":"fit","v":-3,"y":0.99966},{"p":2,"s":"fit","v":-2.5,"y":0.99948},{"p":2,"s":"fit","v":-2,"y":0.99923},{"p":2,"s":"fit","v":-1.7,"y":0.99885},{"p":2,"s":"fit","v":-1.5,"y":0.99854},{"p":2,"s":"fit","v":-1.35,"y":0.99812},{"p":2,"s":"fit","v":-1.2,"y":0.99757},{"p":2,"s":"fit","v":-1.1,"y":0.99695},{"p":2,"s":"fit","v":-1,"y":0.99618},{"p":2,"s":"fit","v":-0.9,"y":0.99525},{"p":2,"s":"fit","v":-0.8,"y":0.99425},{"p":2,"s":"fit","v":-0.7,"y":0.9932},{"p":2,"s":"fit","v":-0.6,"y":0.9921},{"p":2,"s":"fit","v":-0.45,"y":0.9903},{"p":2,"s":"fit","v":-0.35,"y":0.98974},{"p":2,"s":"fit","v":-0.2,"y":0.9902},{"p":2,"s":"fit","v":0.12,"y":0.99146},{"p":2,"s":"fit","v":0.35,"y":0.9904},{"p":2,"s":"fit","v":0.55,"y":0.98957},{"p":2,"s":"fit","v":0.65,"y":0.9905},{"p":2,"s":"fit","v":0.75,"y":0.9925},{"p":2,"s":"fit","v":0.9,"y":0.99468},{"p":2,"s":"fit","v":1,"y":0.9956},{"p":2,"s":"fit","v":1.1,"y":0.99607},{"p":2,"s":"fit","v":1.25,"y":0.99657},{"p":2,"s":"fit","v":1.5,"y":0.99639},{"p":2,"s":"fit","v":1.75,"y":0.99618},{"p":2,"s":"fit","v":2,"y":0.9965},{"p":2,"s":"fit","v":2.3,"y":0.99678},{"p":2,"s":"fit","v":2.6,"y":0.99678},{"p":2,"s":"fit","v":2.9,"y":0.9965},{"p":2,"s":"fit","v":3.1,"y":0.9965},{"p":2,"s":"fit","v":3.5,"y":0.99685},{"p":2,"s":"fit","v":3.8,"y":0.99693},{"p":2,"s":"fit","v":4.1,"y":0.99661},{"p":2,"s":"fit","v":4.35,"y":0.99629},{"p":2,"s":"fit","v":4.6,"y":0.99704},{"p":2,"s":"fit","v":5,"y":0.99811},{"p":2,"s":"fit","v":5.5,"y":0.99886},{"p":2,"s":"fit","v":6,"y":0.9994},
{"p":2,"s":"SnII","v":-6,"y":1},{"p":2,"s":"SnII","v":0.5,"y":1},{"p":2,"s":"SnII","v":1,"y":0.99992},{"p":2,"s":"SnII","v":1.5,"y":0.99972},{"p":2,"s":"SnII","v":2,"y":0.9994},{"p":2,"s":"SnII","v":2.3,"y":0.99897},{"p":2,"s":"SnII","v":2.6,"y":0.99822},{"p":2,"s":"SnII","v":2.9,"y":0.99757},{"p":2,"s":"SnII","v":3.1,"y":0.99736},{"p":2,"s":"SnII","v":3.4,"y":0.99779},{"p":2,"s":"SnII","v":3.7,"y":0.99822},{"p":2,"s":"SnII","v":4,"y":0.99779},{"p":2,"s":"SnII","v":4.3,"y":0.99719},{"p":2,"s":"SnII","v":4.6,"y":0.9979},{"p":2,"s":"SnII","v":5,"y":0.99876},{"p":2,"s":"SnII","v":5.5,"y":0.9994},{"p":2,"s":"SnII","v":6,"y":0.99961},
{"p":2,"s":"PtxSn","v":-0.5,"y":1},{"p":2,"s":"PtxSn","v":0.4,"y":0.99997},{"p":2,"s":"PtxSn","v":0.8,"y":0.99987},{"p":2,"s":"PtxSn","v":1.2,"y":0.99951},{"p":2,"s":"PtxSn","v":1.5,"y":0.99886},{"p":2,"s":"PtxSn","v":1.7,"y":0.99822},{"p":2,"s":"PtxSn","v":1.95,"y":0.99764},{"p":2,"s":"PtxSn","v":2.2,"y":0.99811},{"p":2,"s":"PtxSn","v":2.5,"y":0.99897},{"p":2,"s":"PtxSn","v":2.8,"y":0.99957},{"p":2,"s":"PtxSn","v":3.2,"y":0.99987},{"p":2,"s":"PtxSn","v":3.6,"y":1},{"p":2,"s":"PtxSn","v":6,"y":1},
{"p":3,"s":"SnO2","v":-6,"y":0.99979},{"p":3,"s":"SnO2","v":-4,"y":0.99969},{"p":3,"s":"SnO2","v":-3,"y":0.99942},{"p":3,"s":"SnO2","v":-2.5,"y":0.99912},{"p":3,"s":"SnO2","v":-2,"y":0.99869},{"p":3,"s":"SnO2","v":-1.5,"y":0.99791},{"p":3,"s":"SnO2","v":-1.2,"y":0.99699},{"p":3,"s":"SnO2","v":-1,"y":0.99594},{"p":3,"s":"SnO2","v":-0.8,"y":0.99424},{"p":3,"s":"SnO2","v":-0.7,"y":0.993},{"p":3,"s":"SnO2","v":-0.6,"y":0.99162},{"p":3,"s":"SnO2","v":-0.45,"y":0.98901},{"p":3,"s":"SnO2","v":-0.35,"y":0.9873},{"p":3,"s":"SnO2","v":-0.25,"y":0.9866},{"p":3,"s":"SnO2","v":-0.1,"y":0.987},{"p":3,"s":"SnO2","v":0.1,"y":0.9877},{"p":3,"s":"SnO2","v":0.3,"y":0.9871},{"p":3,"s":"SnO2","v":0.45,"y":0.9867},{"p":3,"s":"SnO2","v":0.6,"y":0.98796},{"p":3,"s":"SnO2","v":0.75,"y":0.9911},{"p":3,"s":"SnO2","v":0.9,"y":0.99398},{"p":3,"s":"SnO2","v":1,"y":0.9952},{"p":3,"s":"SnO2","v":1.1,"y":0.99607},{"p":3,"s":"SnO2","v":1.25,"y":0.9968},{"p":3,"s":"SnO2","v":1.4,"y":0.99738},{"p":3,"s":"SnO2","v":1.8,"y":0.99812},{"p":3,"s":"SnO2","v":2.5,"y":0.99895},{"p":3,"s":"SnO2","v":3.2,"y":0.99935},{"p":3,"s":"SnO2","v":4,"y":0.99961},{"p":3,"s":"SnO2","v":6,"y":0.99995},
{"p":3,"s":"fit","v":-6,"y":0.99979},{"p":3,"s":"fit","v":-4,"y":0.99969},{"p":3,"s":"fit","v":-3,"y":0.99942},{"p":3,"s":"fit","v":-2.5,"y":0.99912},{"p":3,"s":"fit","v":-2,"y":0.99869},{"p":3,"s":"fit","v":-1.5,"y":0.99791},{"p":3,"s":"fit","v":-1.2,"y":0.99699},{"p":3,"s":"fit","v":-1,"y":0.99594},{"p":3,"s":"fit","v":-0.8,"y":0.99424},{"p":3,"s":"fit","v":-0.7,"y":0.993},{"p":3,"s":"fit","v":-0.6,"y":0.99162},{"p":3,"s":"fit","v":-0.45,"y":0.98895},{"p":3,"s":"fit","v":-0.35,"y":0.9872},{"p":3,"s":"fit","v":-0.25,"y":0.98644},{"p":3,"s":"fit","v":-0.1,"y":0.9869},{"p":3,"s":"fit","v":0.1,"y":0.98749},{"p":3,"s":"fit","v":0.3,"y":0.9868},{"p":3,"s":"fit","v":0.5,"y":0.98618},{"p":3,"s":"fit","v":0.6,"y":0.9872},{"p":3,"s":"fit","v":0.7,"y":0.98901},{"p":3,"s":"fit","v":0.85,"y":0.992},{"p":3,"s":"fit","v":0.95,"y":0.99398},{"p":3,"s":"fit","v":1.1,"y":0.99529},{"p":3,"s":"fit","v":1.3,"y":0.99581},{"p":3,"s":"fit","v":1.6,"y":0.99594},{"p":3,"s":"fit","v":1.9,"y":0.9962},{"p":3,"s":"fit","v":2.2,"y":0.99614},{"p":3,"s":"fit","v":2.5,"y":0.99576},{"p":3,"s":"fit","v":2.8,"y":0.99529},{"p":3,"s":"fit","v":3,"y":0.99508},{"p":3,"s":"fit","v":3.3,"y":0.99576},{"p":3,"s":"fit","v":3.6,"y":0.99634},{"p":3,"s":"fit","v":3.9,"y":0.99634},{"p":3,"s":"fit","v":4.2,"y":0.99587},{"p":3,"s":"fit","v":4.4,"y":0.99568},{"p":3,"s":"fit","v":4.7,"y":0.99673},{"p":3,"s":"fit","v":5,"y":0.99804},{"p":3,"s":"fit","v":5.5,"y":0.99921},{"p":3,"s":"fit","v":6,"y":0.99953},
{"p":3,"s":"SnII","v":-6,"y":1},{"p":3,"s":"SnII","v":0.5,"y":1},{"p":3,"s":"SnII","v":1,"y":0.99979},{"p":3,"s":"SnII","v":1.5,"y":0.99948},{"p":3,"s":"SnII","v":2,"y":0.99869},{"p":3,"s":"SnII","v":2.3,"y":0.99791},{"p":3,"s":"SnII","v":2.6,"y":0.99686},{"p":3,"s":"SnII","v":2.85,"y":0.9962},{"p":3,"s":"SnII","v":3.05,"y":0.99607},{"p":3,"s":"SnII","v":3.3,"y":0.99647},{"p":3,"s":"SnII","v":3.6,"y":0.99707},{"p":3,"s":"SnII","v":3.8,"y":0.99712},{"p":3,"s":"SnII","v":4.1,"y":0.99655},{"p":3,"s":"SnII","v":4.35,"y":0.99594},{"p":3,"s":"SnII","v":4.6,"y":0.9966},{"p":3,"s":"SnII","v":4.9,"y":0.99764},{"p":3,"s":"SnII","v":5.3,"y":0.99869},{"p":3,"s":"SnII","v":5.7,"y":0.99921},{"p":3,"s":"SnII","v":6,"y":0.99953},
{"p":3,"s":"PtxSn","v":-0.5,"y":1},{"p":3,"s":"PtxSn","v":0.4,"y":0.99995},{"p":3,"s":"PtxSn","v":0.8,"y":0.99987},{"p":3,"s":"PtxSn","v":1.2,"y":0.99948},{"p":3,"s":"PtxSn","v":1.5,"y":0.99882},{"p":3,"s":"PtxSn","v":1.75,"y":0.99817},{"p":3,"s":"PtxSn","v":1.95,"y":0.99796},{"p":3,"s":"PtxSn","v":2.2,"y":0.99856},{"p":3,"s":"PtxSn","v":2.5,"y":0.99935},{"p":3,"s":"PtxSn","v":2.8,"y":0.99974},{"p":3,"s":"PtxSn","v":3.2,"y":0.99995},{"p":3,"s":"PtxSn","v":3.6,"y":1},{"p":3,"s":"PtxSn","v":6,"y":1},
{"p":4,"s":"SnO2","v":-6,"y":0.99985},{"p":4,"s":"SnO2","v":-5,"y":0.99977},{"p":4,"s":"SnO2","v":-4,"y":0.99968},{"p":4,"s":"SnO2","v":-3,"y":0.99939},{"p":4,"s":"SnO2","v":-2.5,"y":0.99905},{"p":4,"s":"SnO2","v":-2,"y":0.9986},{"p":4,"s":"SnO2","v":-1.5,"y":0.99757},{"p":4,"s":"SnO2","v":-1.2,"y":0.9964},{"p":4,"s":"SnO2","v":-1,"y":0.99523},{"p":4,"s":"SnO2","v":-0.8,"y":0.99348},{"p":4,"s":"SnO2","v":-0.6,"y":0.99143},{"p":4,"s":"SnO2","v":-0.45,"y":0.98968},{"p":4,"s":"SnO2","v":-0.35,"y":0.9887},{"p":4,"s":"SnO2","v":-0.25,"y":0.98816},{"p":4,"s":"SnO2","v":-0.1,"y":0.9884},{"p":4,"s":"SnO2","v":0.12,"y":0.9888},{"p":4,"s":"SnO2","v":0.35,"y":0.98835},{"p":4,"s":"SnO2","v":0.5,"y":0.98807},{"p":4,"s":"SnO2","v":0.65,"y":0.98909},{"p":4,"s":"SnO2","v":0.8,"y":0.99143},{"p":4,"s":"SnO2","v":1,"y":0.99406},{"p":4,"s":"SnO2","v":1.2,"y":0.99611},{"p":4,"s":"SnO2","v":1.5,"y":0.99757},{"p":4,"s":"SnO2","v":1.8,"y":0.9983},{"p":4,"s":"SnO2","v":2.2,"y":0.99889},{"p":4,"s":"SnO2","v":3,"y":0.99942},{"p":4,"s":"SnO2","v":4,"y":0.99962},{"p":4,"s":"SnO2","v":6,"y":0.99997},
{"p":4,"s":"fit","v":-6,"y":0.99985},{"p":4,"s":"fit","v":-5,"y":0.99977},{"p":4,"s":"fit","v":-4,"y":0.99968},{"p":4,"s":"fit","v":-3,"y":0.99939},{"p":4,"s":"fit","v":-2.5,"y":0.99905},{"p":4,"s":"fit","v":-2,"y":0.9986},{"p":4,"s":"fit","v":-1.5,"y":0.99757},{"p":4,"s":"fit","v":-1.2,"y":0.9964},{"p":4,"s":"fit","v":-1,"y":0.99523},{"p":4,"s":"fit","v":-0.8,"y":0.99348},{"p":4,"s":"fit","v":-0.6,"y":0.99143},{"p":4,"s":"fit","v":-0.45,"y":0.98968},{"p":4,"s":"fit","v":-0.35,"y":0.9886},{"p":4,"s":"fit","v":-0.25,"y":0.98798},{"p":4,"s":"fit","v":-0.1,"y":0.98825},{"p":4,"s":"fit","v":0.12,"y":0.98851},{"p":4,"s":"fit","v":0.35,"y":0.9881},{"p":4,"s":"fit","v":0.5,"y":0.98778},{"p":4,"s":"fit","v":0.6,"y":0.9884},{"p":4,"s":"fit","v":0.7,"y":0.9893},{"p":4,"s":"fit","v":0.85,"y":0.99114},{"p":4,"s":"fit","v":1,"y":0.9926},{"p":4,"s":"fit","v":1.2,"y":0.99406},{"p":4,"s":"fit","v":1.5,"y":0.99553},{"p":4,"s":"fit","v":1.8,"y":0.99611},{"p":4,"s":"fit","v":2,"y":0.99634},{"p":4,"s":"fit","v":2.3,"y":0.99655},{"p":4,"s":"fit","v":2.6,"y":0.99626},{"p":4,"s":"fit","v":2.9,"y":0.99538},{"p":4,"s":"fit","v":3.05,"y":0.99494},{"p":4,"s":"fit","v":3.3,"y":0.99567},{"p":4,"s":"fit","v":3.6,"y":0.9964},{"p":4,"s":"fit","v":3.8,"y":0.99655},{"p":4,"s":"fit","v":4.1,"y":0.99611},{"p":4,"s":"fit","v":4.35,"y":0.99558},{"p":4,"s":"fit","v":4.6,"y":0.99611},{"p":4,"s":"fit","v":4.9,"y":0.99699},{"p":4,"s":"fit","v":5.3,"y":0.99816},{"p":4,"s":"fit","v":5.7,"y":0.99904},{"p":4,"s":"fit","v":6,"y":0.99939},
{"p":4,"s":"SnII","v":-6,"y":1},{"p":4,"s":"SnII","v":0.5,"y":1},{"p":4,"s":"SnII","v":0.8,"y":0.99995},{"p":4,"s":"SnII","v":1.2,"y":0.99977},{"p":4,"s":"SnII","v":1.6,"y":0.99947},{"p":4,"s":"SnII","v":2,"y":0.99874},{"p":4,"s":"SnII","v":2.3,"y":0.99787},{"p":4,"s":"SnII","v":2.6,"y":0.9967},{"p":4,"s":"SnII","v":2.85,"y":0.99596},{"p":4,"s":"SnII","v":3.05,"y":0.99576},{"p":4,"s":"SnII","v":3.3,"y":0.99626},{"p":4,"s":"SnII","v":3.6,"y":0.99684},{"p":4,"s":"SnII","v":3.8,"y":0.99699},{"p":4,"s":"SnII","v":4.1,"y":0.9964},{"p":4,"s":"SnII","v":4.35,"y":0.99576},{"p":4,"s":"SnII","v":4.6,"y":0.9964},{"p":4,"s":"SnII","v":4.9,"y":0.99743},{"p":4,"s":"SnII","v":5.3,"y":0.9986},{"p":4,"s":"SnII","v":5.7,"y":0.99918},{"p":4,"s":"SnII","v":6,"y":0.99953},
{"p":4,"s":"PtxSn","v":-0.5,"y":1},{"p":4,"s":"PtxSn","v":0.4,"y":0.99997},{"p":4,"s":"PtxSn","v":0.8,"y":0.99991},{"p":4,"s":"PtxSn","v":1.2,"y":0.99962},{"p":4,"s":"PtxSn","v":1.5,"y":0.99918},{"p":4,"s":"PtxSn","v":1.8,"y":0.99868},{"p":4,"s":"PtxSn","v":2.1,"y":0.99918},{"p":4,"s":"PtxSn","v":2.4,"y":0.99968},{"p":4,"s":"PtxSn","v":2.8,"y":0.99997},{"p":4,"s":"PtxSn","v":3.2,"y":1},{"p":4,"s":"PtxSn","v":6,"y":1}
],
"labels": [
{"p":1,"v":-4.84,"y":0.99007,"t":"In 0.59 wt.%","s":"sample"},{"p":1,"v":0.14,"y":0.99522,"t":"SnO₂ 1","s":"SnO2"},{"p":1,"v":-0.07,"y":0.99318,"t":"66%","s":"SnO2"},{"p":1,"v":2.32,"y":0.99189,"t":"PtₓSn","s":"PtxSn"},{"p":1,"v":2.24,"y":0.98986,"t":"11%","s":"PtxSn"},{"p":1,"v":4.2,"y":0.99196,"t":"Snᴵᴵ 2b","s":"SnII"},{"p":1,"v":4.03,"y":0.99026,"t":"23%","s":"SnII"},
{"p":2,"v":-4.84,"y":0.99187,"t":"In 0.39 wt.%","s":"sample"},{"p":2,"v":0.21,"y":0.99882,"t":"64%","s":"PtxSn"},{"p":2,"v":0.23,"y":0.99669,"t":"SnO₂ 1","s":"SnO2"},{"p":2,"v":0.21,"y":0.99496,"t":"71%","s":"SnO2"},{"p":2,"v":2.82,"y":0.99241,"t":"PtₓSn","s":"PtxSn"},{"p":2,"v":2.54,"y":0.99048,"t":"9%","s":"PtxSn"},{"p":2,"v":4.53,"y":0.99302,"t":"Snᴵᴵ 2b","s":"SnII"},{"p":2,"v":4.29,"y":0.99132,"t":"20%","s":"SnII"},
{"p":3,"v":-4.84,"y":0.98797,"t":"In 0.21 wt.%","s":"sample"},{"p":3,"v":0.29,"y":0.99549,"t":"SnO₂ 1","s":"SnO2"},{"p":3,"v":0.05,"y":0.99289,"t":"65%","s":"SnO2"},{"p":3,"v":2.69,"y":0.99053,"t":"PtₓSn","s":"PtxSn"},{"p":3,"v":2.43,"y":0.98829,"t":"8%","s":"PtxSn"},{"p":3,"v":4.42,"y":0.99041,"t":"Snᴵᴵ 2b","s":"SnII"},{"p":3,"v":4.2,"y":0.98845,"t":"27%","s":"SnII"},{"p":3,"v":0.21,"y":0.9877,"t":"69%","s":"note"},
{"p":4,"v":-4.84,"y":0.98889,"t":"In 0.06 wt.%","s":"sample"},{"p":4,"v":0.25,"y":0.99532,"t":"SnO₂ 1","s":"SnO2"},{"p":4,"v":0.12,"y":0.99281,"t":"68%","s":"SnO2"},{"p":4,"v":2.84,"y":0.98947,"t":"PtₓSn","s":"PtxSn"},{"p":4,"v":2.57,"y":0.98632,"t":"5%","s":"PtxSn"},{"p":4,"v":4.51,"y":0.99082,"t":"Snᴵᴵ 2b","s":"SnII"},{"p":4,"v":4.33,"y":0.9886,"t":"27%","s":"SnII"},{"p":4,"v":4.22,"y":1.00293,"t":"24%","s":"note"}
],
"leaders": [
{"p":1,"v":2.32,"y":0.99315,"v2":2.06,"y2":0.99585},{"p":1,"v":3.59,"y":0.99308,"v2":3.25,"y2":0.99585},
{"p":2,"v":2.69,"y":0.99384,"v2":2.44,"y2":0.99598},{"p":2,"v":3.81,"y":0.99417,"v2":3.5,"y2":0.99643},
{"p":3,"v":2.71,"y":0.99138,"v2":2.18,"y2":0.99777},{"p":3,"v":3.81,"y":0.99069,"v2":3.55,"y2":0.99554},
{"p":4,"v":2.27,"y":0.9919,"v2":2.01,"y2":0.99524},{"p":4,"v":3.72,"y":0.9919,"v2":3.46,"y2":0.99497}
],
"arrows": [
{"p":1,"v":1.91,"y":0.99676},{"p":2,"v":2.26,"y":0.99757},{"p":3,"v":2.17,"y":0.99785},{"p":4,"v":1.78,"y":0.99816}
]
},
"vconcat": [
{
 "width": 595, "height": 216,
 "encoding": {
  "x": {"field": "v", "type": "quantitative", "scale": {"domain": [-6, 6], "nice": false, "zero": false}, "axis": {"orient": "top", "values": [-6,-5,-4,-3,-2,-1,0,1,2,3,4,5,6], "labels": false, "tickSize": -10, "title": null}},
  "y": {"field": "y", "type": "quantitative", "scale": {"domain": [0.98813, 1.00204], "nice": false, "zero": false}, "axis": {"values": [0.99, 0.9925, 0.995, 0.9975, 1.0], "tickSize": {"condition": {"test": "round(datum.value*10000) % 50 === 0", "value": 13}, "value": 7}, "labelExpr": "round(datum.value*10000) % 50 === 0 ? format(datum.value, '.3f') : ''", "labelPadding": 8, "title": null}}
 },
 "layer": [
  {"data": {"name": "pts"}, "transform": [{"filter": "datum.p === 1"}], "mark": {"type": "point", "shape": "circle", "filled": false, "stroke": "#333333", "strokeWidth": 1.1, "size": 72, "opacity": 1}},
  {"data": {"name": "curves"}, "transform": [{"filter": "datum.p === 1 && datum.s === 'PtxSn'"}], "mark": {"type": "area", "interpolate": "monotone", "color": "#3446a6", "opacity": 0.95}, "encoding": {"y2": {"datum": 1}}},
  {"data": {"name": "curves"}, "transform": [{"filter": "datum.p === 1 && datum.s === 'PtxSn'"}], "mark": {"type": "line", "interpolate": "monotone", "color": "#26318a", "strokeWidth": 1.5}},
  {"data": {"name": "curves"}, "transform": [{"filter": "datum.p === 1 && datum.s === 'SnO2'"}], "mark": {"type": "line", "interpolate": "monotone", "color": "#b3252b", "strokeWidth": 2.6}},
  {"data": {"name": "curves"}, "transform": [{"filter": "datum.p === 1 && datum.s === 'SnO2' && datum.v >= 1.47 && datum.v <= 2.88"}], "mark": {"type": "line", "interpolate": "monotone", "color": "#a8306e", "strokeWidth": 2.6}},
  {"data": {"name": "curves"}, "transform": [{"filter": "datum.p === 1 && datum.s === 'SnII'"}], "mark": {"type": "line", "interpolate": "monotone", "color": "#5cc552", "strokeWidth": 2.6}},
  {"data": {"name": "curves"}, "transform": [{"filter": "datum.p === 1 && datum.s === 'SnII' && datum.v >= 0.5 && datum.v <= 2.35"}], "mark": {"type": "line", "interpolate": "monotone", "color": "#41c3d6", "strokeWidth": 2}},
  {"data": {"name": "curves"}, "transform": [{"filter": "datum.p === 1 && datum.s === 'fit'"}], "mark": {"type": "line", "interpolate": "monotone", "color": "#111111", "strokeWidth": 2.2}},
  {"data": {"name": "leaders"}, "transform": [{"filter": "datum.p === 1"}], "mark": {"type": "rule", "color": "#777777", "strokeWidth": 1, "strokeDash": [1.5, 2]}, "encoding": {"x2": {"field": "v2"}, "y2": {"field": "y2"}}},
  {"data": {"name": "arrows"}, "transform": [{"filter": "datum.p === 1"}], "mark": {"type": "point", "shape": "triangle-up", "filled": true, "color": "#111111", "size": 22, "opacity": 1}},
  {"data": {"name": "labels"}, "transform": [{"filter": "datum.p === 1 && datum.s !== 'sample' && datum.s !== 'note'"}], "mark": {"type": "text", "fontSize": 20, "align": "center", "baseline": "middle"}, "encoding": {"text": {"field": "t"}, "color": {"field": "s", "type": "nominal", "scale": {"domain": ["sample","SnO2","PtxSn","SnII","note"], "range": ["#1c1c1c","#b3272d","#2f3192","#5cc24f","#111111"]}, "legend": null}}},
  {"data": {"name": "labels"}, "transform": [{"filter": "datum.p === 1 && datum.s === 'sample'"}], "mark": {"type": "text", "fontSize": 20, "align": "left", "baseline": "middle", "color": "#1c1c1c"}, "encoding": {"text": {"field": "t"}}}
 ]
},
{
 "width": 595, "height": 214,
 "encoding": {
  "x": {"field": "v", "type": "quantitative", "scale": {"domain": [-6, 6], "nice": false, "zero": false}, "axis": {"orient": "top", "values": [-6,-5,-4,-3,-2,-1,0,1,2,3,4,5,6], "labels": false, "tickSize": -10, "title": null}},
  "y": {"field": "y", "type": "quantitative", "scale": {"domain": [0.9882, 1.00197], "nice": false, "zero": false}, "axis": {"values": [0.99, 0.9925, 0.995, 0.9975, 1.0], "tickSize": {"condition": {"test": "round(datum.value*10000) % 50 === 0", "value": 13}, "value": 7}, "labelExpr": "round(datum.value*10000) % 50 === 0 ? format(datum.value, '.3f') : ''", "labelPadding": 8, "title": null}}
 },
 "layer": [
  {"data": {"name": "pts"}, "transform": [{"filter": "datum.p === 2"}], "mark": {"type": "point", "shape": "circle", "filled": false, "stroke": "#333333", "strokeWidth": 1.1, "size": 72, "opacity": 1}},
  {"data": {"name": "curves"}, "transform": [{"filter": "datum.p === 2 && datum.s === 'PtxSn'"}], "mark": {"type": "area", "interpolate": "monotone", "color": "#3446a6", "opacity": 0.95}, "encoding": {"y2": {"datum": 1}}},
  {"data": {"name": "curves"}, "transform": [{"filter": "datum.p === 2 && datum.s === 'PtxSn'"}], "mark": {"type": "line", "interpolate": "monotone", "color": "#26318a", "strokeWidth": 1.5}},
  {"data": {"name": "curves"}, "transform": [{"filter": "datum.p === 2 && datum.s === 'SnO2'"}], "mark": {"type": "line", "interpolate": "monotone", "color": "#b3252b", "strokeWidth": 2.6}},
  {"data": {"name": "curves"}, "transform": [{"filter": "datum.p === 2 && datum.s === 'SnO2' && datum.v >= 1.4 && datum.v <= 3"}], "mark": {"type": "line", "interpolate": "monotone", "color": "#a8306e", "strokeWidth": 2.6}},
  {"data": {"name": "curves"}, "transform": [{"filter": "datum.p === 2 && datum.s === 'SnII'"}], "mark": {"type": "line", "interpolate": "monotone", "color": "#5cc552", "strokeWidth": 2.6}},
  {"data": {"name": "curves"}, "transform": [{"filter": "datum.p === 2 && datum.s === 'SnII' && datum.v >= 1 && datum.v <= 2.3"}], "mark": {"type": "line", "interpolate": "monotone", "color": "#41c3d6", "strokeWidth": 2}},
  {"data": {"name": "curves"}, "transform": [{"filter": "datum.p === 2 && datum.s === 'fit'"}], "mark": {"type": "line", "interpolate": "monotone", "color": "#111111", "strokeWidth": 2.2}},
  {"data": {"name": "leaders"}, "transform": [{"filter": "datum.p === 2"}], "mark": {"type": "rule", "color": "#777777", "strokeWidth": 1, "strokeDash": [1.5, 2]}, "encoding": {"x2": {"field": "v2"}, "y2": {"field": "y2"}}},
  {"data": {"name": "arrows"}, "transform": [{"filter": "datum.p === 2"}], "mark": {"type": "point", "shape": "triangle-up", "filled": true, "color": "#111111", "size": 22, "opacity": 1}},
  {"data": {"name": "labels"}, "transform": [{"filter": "datum.p === 2 && datum.s !== 'sample' && datum.s !== 'note'"}], "mark": {"type": "text", "fontSize": 20, "align": "center", "baseline": "middle"}, "encoding": {"text": {"field": "t"}, "color": {"field": "s", "type": "nominal", "scale": {"domain": ["sample","SnO2","PtxSn","SnII","note"], "range": ["#1c1c1c","#b3272d","#2f3192","#5cc24f","#111111"]}, "legend": null}}},
  {"data": {"name": "labels"}, "transform": [{"filter": "datum.p === 2 && datum.s === 'sample'"}], "mark": {"type": "text", "fontSize": 20, "align": "left", "baseline": "middle", "color": "#1c1c1c"}, "encoding": {"text": {"field": "t"}}}
 ]
},
{
 "width": 595, "height": 217,
 "encoding": {
  "x": {"field": "v", "type": "quantitative", "scale": {"domain": [-6, 6], "nice": false, "zero": false}, "axis": {"orient": "top", "values": [-6,-5,-4,-3,-2,-1,0,1,2,3,4,5,6], "labels": false, "tickSize": -10, "title": null}},
  "y": {"field": "y", "type": "quantitative", "scale": {"domain": [0.985, 1.00204], "nice": false, "zero": false}, "axis": {"values": [0.985, 0.9875, 0.99, 0.9925, 0.995, 0.9975, 1.0], "tickSize": {"condition": {"test": "round(datum.value*10000) % 50 === 0", "value": 13}, "value": 7}, "labelExpr": "round(datum.value*10000) % 50 === 0 ? format(datum.value, '.3f') : ''", "labelPadding": 8, "title": null}}
 },
 "layer": [
  {"data": {"name": "pts"}, "transform": [{"filter": "datum.p === 3"}], "mark": {"type": "point", "shape": "circle", "filled": false, "stroke": "#333333", "strokeWidth": 1.1, "size": 72, "opacity": 1}},
  {"data": {"name": "curves"}, "transform": [{"filter": "datum.p === 3 && datum.s === 'PtxSn'"}], "mark": {"type": "area", "interpolate": "monotone", "color": "#3446a6", "opacity": 0.95}, "encoding": {"y2": {"datum": 1}}},
  {"data": {"name": "curves"}, "transform": [{"filter": "datum.p === 3 && datum.s === 'PtxSn'"}], "mark": {"type": "line", "interpolate": "monotone", "color": "#26318a", "strokeWidth": 1.5}},
  {"data": {"name": "curves"}, "transform": [{"filter": "datum.p === 3 && datum.s === 'SnO2'"}], "mark": {"type": "line", "interpolate": "monotone", "color": "#b3252b", "strokeWidth": 2.6}},
  {"data": {"name": "curves"}, "transform": [{"filter": "datum.p === 3 && datum.s === 'SnO2' && datum.v >= 1.4 && datum.v <= 2.5"}], "mark": {"type": "line", "interpolate": "monotone", "color": "#a8306e", "strokeWidth": 2.6}},
  {"data": {"name": "curves"}, "transform": [{"filter": "datum.p === 3 && datum.s === 'SnII'"}], "mark": {"type": "line", "interpolate": "monotone", "color": "#5cc552", "strokeWidth": 2.6}},
  {"data": {"name": "curves"}, "transform": [{"filter": "datum.p === 3 && datum.s === 'SnII' && datum.v >= 1 && datum.v <= 2"}], "mark": {"type": "line", "interpolate": "monotone", "color": "#41c3d6", "strokeWidth": 2}},
  {"data": {"name": "curves"}, "transform": [{"filter": "datum.p === 3 && datum.s === 'fit'"}], "mark": {"type": "line", "interpolate": "monotone", "color": "#111111", "strokeWidth": 2.2}},
  {"data": {"name": "leaders"}, "transform": [{"filter": "datum.p === 3"}], "mark": {"type": "rule", "color": "#777777", "strokeWidth": 1, "strokeDash": [1.5, 2]}, "encoding": {"x2": {"field": "v2"}, "y2": {"field": "y2"}}},
  {"data": {"name": "arrows"}, "transform": [{"filter": "datum.p === 3"}], "mark": {"type": "point", "shape": "triangle-up", "filled": true, "color": "#111111", "size": 22, "opacity": 1}},
  {"data": {"name": "labels"}, "transform": [{"filter": "datum.p === 3 && datum.s !== 'sample' && datum.s !== 'note'"}], "mark": {"type": "text", "fontSize": 20, "align": "center", "baseline": "middle"}, "encoding": {"text": {"field": "t"}, "color": {"field": "s", "type": "nominal", "scale": {"domain": ["sample","SnO2","PtxSn","SnII","note"], "range": ["#1c1c1c","#b3272d","#2f3192","#5cc24f","#111111"]}, "legend": null}}},
  {"data": {"name": "labels"}, "transform": [{"filter": "datum.p === 3 && datum.s === 'sample'"}], "mark": {"type": "text", "fontSize": 20, "align": "left", "baseline": "middle", "color": "#1c1c1c"}, "encoding": {"text": {"field": "t"}}},
  {"data": {"name": "labels"}, "transform": [{"filter": "datum.p === 3 && datum.s === 'note'"}], "mark": {"type": "text", "font": "DejaVu Serif", "fontWeight": "bold", "fontSize": 11, "align": "center", "baseline": "middle", "color": "#111111"}, "encoding": {"text": {"field": "t"}}}
 ]
},
{
 "width": 595, "height": 216,
 "resolve": {"axis": {"x": "independent"}},
 "layer": [
  {
   "encoding": {
    "x": {"field": "v", "type": "quantitative", "scale": {"domain": [-6, 6], "nice": false, "zero": false}, "axis": {"orient": "bottom", "values": [-6,-5,-4,-3,-2,-1,0,1,2,3,4,5,6], "tickSize": {"condition": {"test": "datum.value % 2 === 0", "value": 12}, "value": 7}, "labelPadding": 11, "labelExpr": "datum.value % 2 === 0 ? datum.label : ''", "title": "Velocity mm.s⁻¹", "titleFontSize": 20, "titleFontWeight": "normal", "titlePadding": 7}},
    "y": {"field": "y", "type": "quantitative", "scale": {"domain": [0.985, 1.00395], "nice": false, "zero": false}, "axis": {"values": [0.985, 0.9875, 0.99, 0.9925, 0.995, 0.9975, 1.0, 1.0025], "tickSize": {"condition": {"test": "round(datum.value*10000) % 50 === 0", "value": 13}, "value": 7}, "labelExpr": "round(datum.value*10000) % 50 === 0 ? format(datum.value, '.3f') : ''", "labelPadding": 8, "title": null}}
   },
   "layer": [
    {"data": {"name": "pts"}, "transform": [{"filter": "datum.p === 4"}], "mark": {"type": "point", "shape": "circle", "filled": false, "stroke": "#333333", "strokeWidth": 1.1, "size": 72, "opacity": 1}},
    {"data": {"name": "curves"}, "transform": [{"filter": "datum.p === 4 && datum.s === 'PtxSn'"}], "mark": {"type": "area", "interpolate": "monotone", "color": "#3446a6", "opacity": 0.95}, "encoding": {"y2": {"datum": 1}}},
    {"data": {"name": "curves"}, "transform": [{"filter": "datum.p === 4 && datum.s === 'PtxSn'"}], "mark": {"type": "line", "interpolate": "monotone", "color": "#26318a", "strokeWidth": 1.5}},
    {"data": {"name": "curves"}, "transform": [{"filter": "datum.p === 4 && datum.s === 'SnO2'"}], "mark": {"type": "line", "interpolate": "monotone", "color": "#b3252b", "strokeWidth": 2.6}},
    {"data": {"name": "curves"}, "transform": [{"filter": "datum.p === 4 && datum.s === 'SnO2' && datum.v >= 1.5 && datum.v <= 2.2"}], "mark": {"type": "line", "interpolate": "monotone", "color": "#a8306e", "strokeWidth": 2.6}},
    {"data": {"name": "curves"}, "transform": [{"filter": "datum.p === 4 && datum.s === 'SnII'"}], "mark": {"type": "line", "interpolate": "monotone", "color": "#5cc552", "strokeWidth": 2.6}},
    {"data": {"name": "curves"}, "transform": [{"filter": "datum.p === 4 && datum.s === 'SnII' && datum.v >= 1.2 && datum.v <= 2"}], "mark": {"type": "line", "interpolate": "monotone", "color": "#41c3d6", "strokeWidth": 2}},
    {"data": {"name": "curves"}, "transform": [{"filter": "datum.p === 4 && datum.s === 'fit'"}], "mark": {"type": "line", "interpolate": "monotone", "color": "#111111", "strokeWidth": 2.2}},
    {"data": {"name": "leaders"}, "transform": [{"filter": "datum.p === 4"}], "mark": {"type": "rule", "color": "#777777", "strokeWidth": 1, "strokeDash": [1.5, 2]}, "encoding": {"x2": {"field": "v2"}, "y2": {"field": "y2"}}},
    {"data": {"name": "arrows"}, "transform": [{"filter": "datum.p === 4"}], "mark": {"type": "point", "shape": "triangle-up", "filled": true, "color": "#111111", "size": 22, "opacity": 1}},
    {"data": {"name": "labels"}, "transform": [{"filter": "datum.p === 4 && datum.s !== 'sample' && datum.s !== 'note'"}], "mark": {"type": "text", "fontSize": 20, "align": "center", "baseline": "middle"}, "encoding": {"text": {"field": "t"}, "color": {"field": "s", "type": "nominal", "scale": {"domain": ["sample","SnO2","PtxSn","SnII","note"], "range": ["#1c1c1c","#b3272d","#2f3192","#5cc24f","#111111"]}, "legend": null}}},
    {"data": {"name": "labels"}, "transform": [{"filter": "datum.p === 4 && datum.s === 'sample'"}], "mark": {"type": "text", "fontSize": 20, "align": "left", "baseline": "middle", "color": "#1c1c1c"}, "encoding": {"text": {"field": "t"}}},
    {"data": {"name": "labels"}, "transform": [{"filter": "datum.p === 4 && datum.s === 'note'"}], "mark": {"type": "text", "font": "DejaVu Serif", "fontWeight": "bold", "fontSize": 12, "align": "center", "baseline": "middle", "color": "#111111"}, "encoding": {"text": {"field": "t"}}}
   ]
  },
  {"data": {"name": "curves"}, "transform": [{"filter": "datum.p === 4 && datum.s === 'fit'"}], "mark": {"type": "point", "opacity": 0}, "encoding": {"x": {"field": "v", "type": "quantitative", "scale": {"domain": [-6, 6], "nice": false, "zero": false}, "axis": {"orient": "top", "values": [-6,-5,-4,-3,-2,-1,0,1,2,3,4,5,6], "labels": false, "tickSize": -10, "title": null}}}}
 ]
}
]
}
